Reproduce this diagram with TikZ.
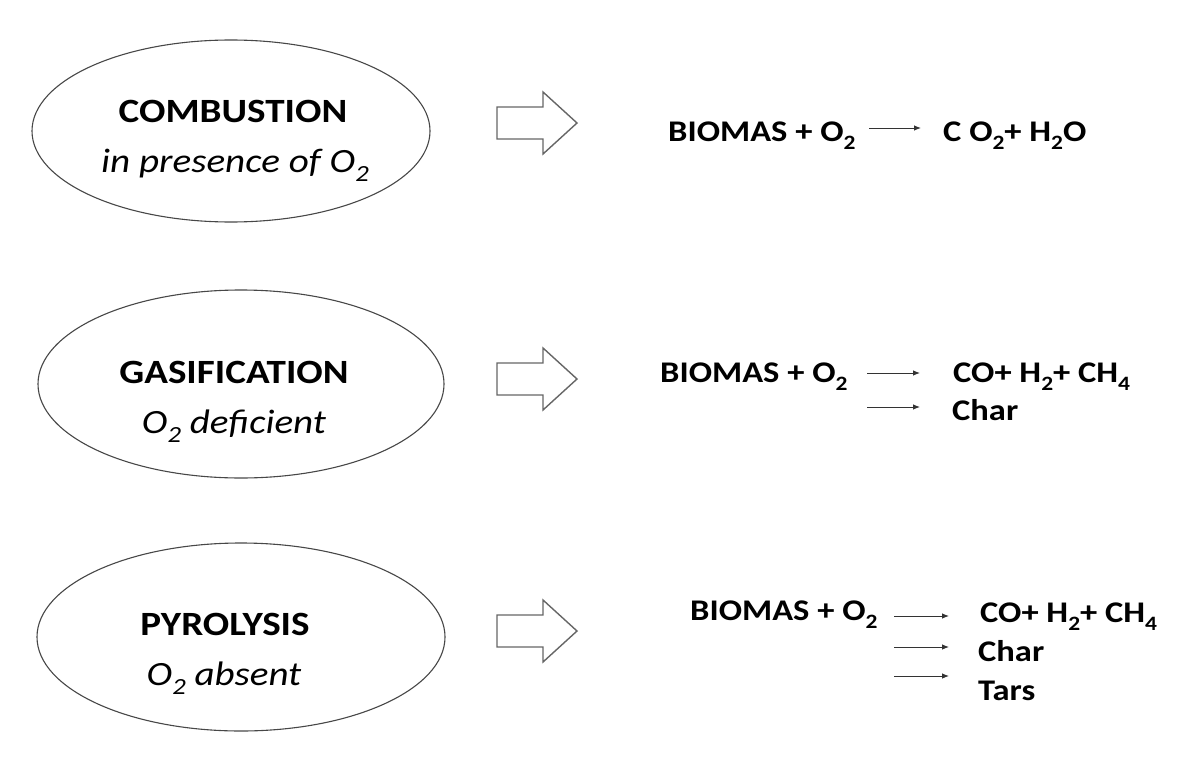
\documentclass[tikz,border=0pt]{standalone}
\usepackage{graphicx}
\usepackage{fontspec}
\setmainfont{Carlito}[FakeStretch=1.15]
\usetikzlibrary{arrows.meta}
\newcommand{\sbt}[1]{\raisebox{-0.27em}{\scalebox{0.68}{#1}}}
\begin{document}
\begin{tikzpicture}[x=1pt,y=-1pt,
  ell/.style={draw=black!72,line width=1.1pt},
  title/.style={font=\fontsize{34}{38}\selectfont\bfseries,anchor=base,inner sep=0pt},
  subtitle/.style={font=\fontsize{34}{38}\selectfont\itshape,anchor=base,inner sep=0pt},
  eq/.style={font=\fontsize{30}{34}\selectfont\bfseries,anchor=base west,inner sep=0pt},
  rxn/.style={-{Latex[length=7pt,width=5.5pt]},line width=0.9pt,black!80},
  hollow/.style={draw=black!60,line width=1.4pt,fill=white,line join=miter}]
\useasboundingbox (0,0) rectangle (1190,768);
% ellipses
\draw[ell] (231,131) ellipse [x radius=199, y radius=91];
\draw[ell] (241,384) ellipse [x radius=203, y radius=94];
\draw[ell] (241,637) ellipse [x radius=204, y radius=94];
\node[title] (t1) at (233,122) {COMBUSTION};
\node[subtitle] (s1) at (235,172) {in presence of O\sbt{2}};
\node[title] (t2) at (234,383) {GASIFICATION};
\node[subtitle] (s2) at (234,433) {O\sbt{2} deficient};
\node[title] (t3) at (225,635) {PYROLYSIS};
\node[subtitle] (s3) at (224,685) {O\sbt{2} absent};
% hollow arrows
\foreach \n/\yc in {1/123,2/379,3/631}{
  \coordinate (h\n) at (497,\yc);
  \draw[hollow] (h\n) ++(0,-16) -- ++(46,0) -- ++(0,-15) -- ++(34,31) -- ++(-34,31) -- ++(0,-15) -- ++(-46,0) -- cycle;
}
% row 1
\node[eq] (b1) at (668,141) {BIOMAS + O\sbt{2}};
\node[eq] (p1) at (943,141) {C O\sbt{2}+ H\sbt{2}O};
\coordinate (a1s) at (869,128); \coordinate (a1e) at (921,128);
\draw[rxn] (a1s) -- (a1e);
% row 2
\node[eq] (b2) at (660,382) {BIOMAS + O\sbt{2}};
\node[eq] (p2a) at (953,382) {CO+ H\sbt{2}+ CH\sbt{4}};
\node[eq] (p2b) at (952,420) {Char};
\coordinate (a2s) at (867,373); \coordinate (a2e) at (920,373);
\coordinate (a3s) at (867,407); \coordinate (a3e) at (920,407);
\draw[rxn] (a2s) -- (a2e);
\draw[rxn] (a3s) -- (a3e);
% row 3
\node[eq] (b3) at (690,620) {BIOMAS + O\sbt{2}};
\node[eq] (p3a) at (980,622) {CO+ H\sbt{2}+ CH\sbt{4}};
\node[eq] (p3b) at (978,661) {Char};
\node[eq] (p3c) at (978,700) {Tars};
\coordinate (a4s) at (894,616); \coordinate (a4e) at (949,616);
\coordinate (a5s) at (894,647); \coordinate (a5e) at (949,647);
\coordinate (a6s) at (894,676); \coordinate (a6e) at (949,676);
\draw[rxn] (a4s) -- (a4e);
\draw[rxn] (a5s) -- (a5e);
\draw[rxn] (a6s) -- (a6e);
\end{tikzpicture}
\end{document}
